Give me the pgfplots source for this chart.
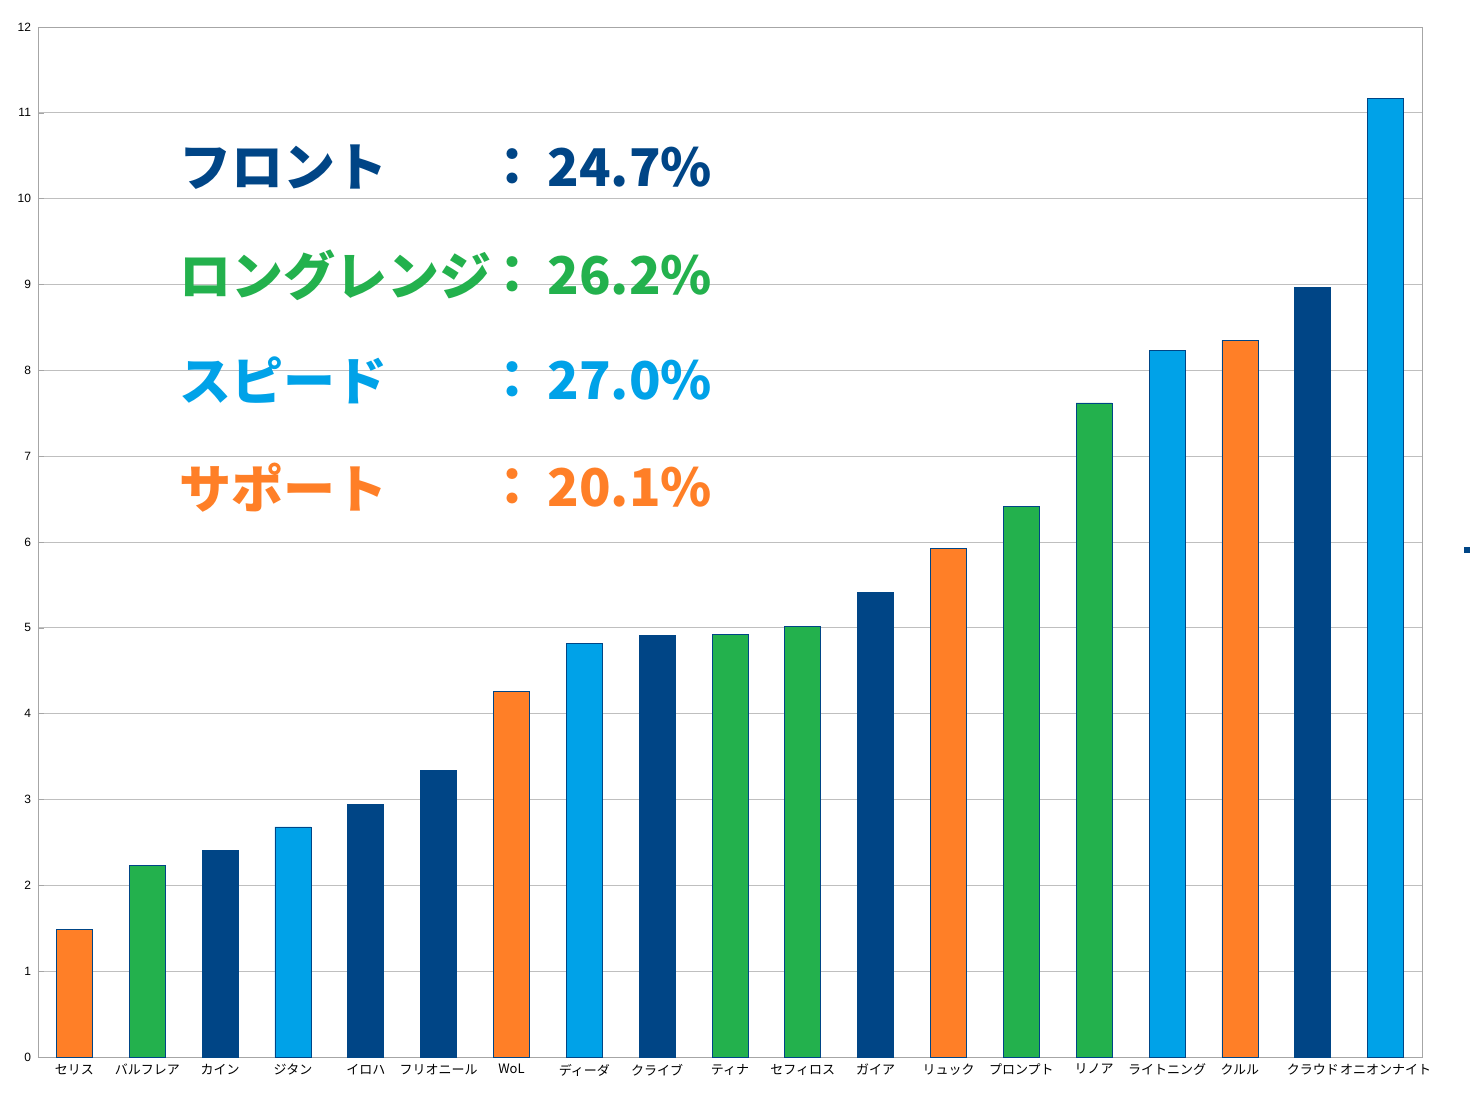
\documentclass[border=0pt]{standalone}
\usepackage{pgfplots}
\pgfplotsset{compat=1.18}
\usepackage{fontspec}
\setmainfont{Liberation Sans}
\newfontfamily\cjk{Noto Sans CJK JP}
\definecolor{cf}{HTML}{004586}
\definecolor{cl}{HTML}{23B14D}
\definecolor{cs}{HTML}{00A2E8}
\definecolor{cp}{HTML}{FF7F27}
\begin{document}
\begin{tikzpicture}
\path[use as bounding box] (0,0) rectangle (739pt,549.5pt);
\begin{axis}[at={(19pt,21pt)},anchor=south west,scale only axis,
 width=692pt,height=515pt,
 xmin=-0.5,xmax=18.5,ymin=0,ymax=12,ytick={0,...,12},
 xtick={0,...,18},
 xticklabels={セリス,バルフレア,カイン,ジタン,イロハ,フリオニール,WoL,ディーダ,クライブ,ティナ,セフィロス,ガイア,リュック,プロンプト,リノア,ライトニング,クルル,クラウド,オニオンナイト},
 xticklabel style={font=\cjk\fontsize{6.5}{7}\selectfont},
 yticklabel style={font=\fontsize{6}{7}\selectfont},
 /pgf/number format/assume math mode=true,
 ymajorgrids, grid style={gray!50},
 axis line style={gray!70}, tick style={gray!70},
 major tick length=3pt, tick pos=left,
 bar width=18pt, clip=false]
\addplot[ybar,fill=cp,draw=cf,bar shift=0pt] coordinates {(0,1.49)(6,4.26)(12,5.93)(16,8.35)};
\addplot[ybar,fill=cl,draw=cf,bar shift=0pt] coordinates {(1,2.23)(9,4.92)(10,5.02)(13,6.41)(14,7.62)};
\addplot[ybar,fill=cf,draw=cf,bar shift=0pt] coordinates {(2,2.41)(4,2.94)(5,3.34)(8,4.91)(11,5.41)(17,8.97)};
\addplot[ybar,fill=cs,draw=cf,bar shift=0pt] coordinates {(3,2.68)(7,4.82)(15,8.23)(18,11.17)};
\begin{scope}[font=\cjk\bfseries\fontsize{26}{28}\selectfont]
\node[anchor=west,text=cf] at (axis description cs:0.097,0.864) {フロント};
\node[text=cf] at (axis description cs:0.343,0.864) {：};
\node[anchor=west,text=cf] at (axis description cs:0.363,0.864) {24.7\%};
\node[anchor=west,text=cl] at (axis description cs:0.097,0.759) {ロングレンジ};
\node[text=cl] at (axis description cs:0.343,0.759) {：};
\node[anchor=west,text=cl] at (axis description cs:0.363,0.759) {26.2\%};
\node[anchor=west,text=cs] at (axis description cs:0.097,0.657) {スピード};
\node[text=cs] at (axis description cs:0.343,0.657) {：};
\node[anchor=west,text=cs] at (axis description cs:0.363,0.657) {27.0\%};
\node[anchor=west,text=cp] at (axis description cs:0.097,0.553) {サポート};
\node[text=cp] at (axis description cs:0.343,0.553) {：};
\node[anchor=west,text=cp] at (axis description cs:0.363,0.553) {20.1\%};
\end{scope}
\end{axis}
\fill[cf] (732pt,273pt) rectangle (735pt,276pt);
\end{tikzpicture}
\end{document}
